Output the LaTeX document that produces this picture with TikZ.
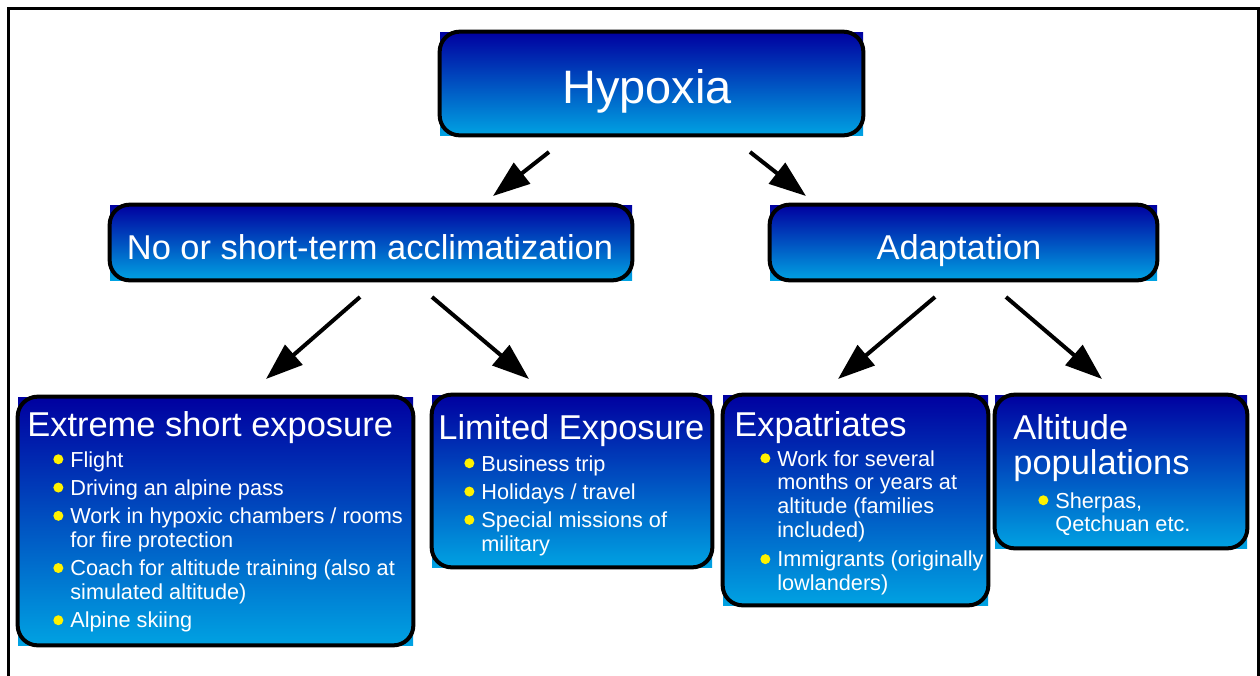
\documentclass[tikz,border=0pt]{standalone}
\usepackage{fontspec}
\setmainfont{Liberation Sans}
\usetikzlibrary{arrows.meta}

\definecolor{navytop}{RGB}{0,0,160}
\definecolor{skybot}{RGB}{0,162,226}

\newcommand{\ydot}{\makebox[0.34cm][l]{\tikz[baseline=0pt]\fill[yellow] (0.1,0.155) circle (0.1);}}

\tikzset{
  box/.style={rectangle,top color=navytop,bottom color=skybot,draw=none,inner sep=0pt},
  rim/.style={draw=black,line width=0.08cm,rounded corners=0.4cm},
  hd/.style={anchor=base,inner sep=0pt,text=white,font=\fontsize{26.7}{32}\selectfont},
  sub/.style={anchor=base,inner sep=0pt,text=white,font=\fontsize{19.6}{23}\selectfont},
  ttl/.style={anchor=base west,inner sep=0pt,text=white,font=\fontsize{19.6}{19.3}\selectfont},
  lst/.style={anchor=base west,inner sep=0pt,text=white,font=\fontsize{12.35}{13.6}\selectfont},
  arr/.style={-{Triangle[length=0.74cm,width=0.52cm]},line width=0.08cm}
}

\begin{document}
\begin{tikzpicture}
        \useasboundingbox (0,0) rectangle (25.2,-13.5);

        % Marco
        \draw[line width=0.06cm] (0.17,-13.8) -- (0.17,-0.17) -- (25.17,-0.17) -- (25.17,-13.8);

        % Cajas
        \node[box,minimum width=8.46cm,minimum height=2.06cm] (hyp) at (13.03,-1.67) {};
        \node[box,minimum width=10.44cm,minimum height=1.5cm] (noacc) at (7.42,-4.85) {};
        \node[box,minimum width=7.74cm,minimum height=1.5cm] (adapt) at (19.27,-4.85) {};
        \node[box,minimum width=7.9cm,minimum height=4.96cm] (ext) at (4.31,-10.42) {};
        \node[box,minimum width=5.6cm,minimum height=3.44cm] (lim) at (11.44,-9.62) {};
        \node[box,minimum width=5.3cm,minimum height=4.2cm] (expat) at (17.11,-10.0) {};
        \node[box,minimum width=5.04cm,minimum height=3.06cm] (alt) at (22.42,-9.43) {};
        \foreach \n in {hyp,noacc,adapt,ext,lim,expat,alt}
          \draw[rim] (\n.north west) rectangle (\n.south east);

        % Textos
        \node[hd] (hyptxt) at (12.94,-2.06) {Hypoxia};
        \node[sub] (noacctxt) at (7.40,-5.18) {No or short-term acclimatization};
        \node[sub] (adapttxt) at (19.18,-5.18) {Adaptation};

        \node[ttl] (extttl) at (0.54,-8.72) {Extreme short exposure};
        \node[lst] (extlst) at (1.06,-9.34) {\begin{tabular}[t]{@{}l@{}l@{}}
          \ydot & Flight\\[2.5pt]
          \ydot & Driving an alpine pass\\[2.5pt]
          \ydot & Work in hypoxic chambers / rooms\\
                & for fire protection\\[2.5pt]
          \ydot & Coach for altitude training (also at\\
                & simulated altitude)\\[2.5pt]
          \ydot & Alpine skiing
        \end{tabular}};

        \node[ttl] (limttl) at (8.76,-8.78) {Limited Exposure};
        \node[lst] (limlst) at (9.28,-9.42) {\begin{tabular}[t]{@{}l@{}l@{}}
          \ydot & Business trip\\[2.5pt]
          \ydot & Holidays / travel\\[2.5pt]
          \ydot & Special missions of\\
                & military
        \end{tabular}};

        \node[ttl] (expatttl) at (14.68,-8.72) {Expatriates};
        \node[lst] (expatlst) at (15.2,-9.32) {\begin{tabular}[t]{@{}l@{}l@{}}
          \ydot & Work for several\\
                & months or years at\\
                & altitude (families\\
                & included)\\[3pt]
          \ydot & Immigrants (originally\\
                & lowlanders)
        \end{tabular}};

        \node[ttl] (altttl) at (20.26,-8.78) {\begin{tabular}[t]{@{}l@{}}Altitude\\ populations\end{tabular}};
        \node[lst] (altlst) at (20.76,-10.16) {\begin{tabular}[t]{@{}l@{}l@{}}
          \ydot & Sherpas,\\
                & Qetchuan etc.
        \end{tabular}};

        % Extremos de las flechas
        \coordinate (h1) at (10.98,-3.04);
        \coordinate (h2) at (15.0,-3.04);
        \coordinate (n1) at (9.86,-3.92);
        \coordinate (n2) at (16.12,-3.92);
        \coordinate (s1) at (7.2,-5.94);
        \coordinate (s2) at (8.64,-5.94);
        \coordinate (s3) at (18.7,-5.94);
        \coordinate (s4) at (20.12,-5.94);
        \coordinate (e1) at (5.32,-7.58);
        \coordinate (e2) at (10.58,-7.58);
        \coordinate (e3) at (16.76,-7.58);
        \coordinate (e4) at (22.04,-7.58);

        % Flechas
        \draw[arr] (h1) -- (n1);
        \draw[arr] (h2) -- (n2);
        \draw[arr] (s1) -- (e1);
        \draw[arr] (s2) -- (e2);
        \draw[arr] (s3) -- (e3);
        \draw[arr] (s4) -- (e4);
\end{tikzpicture}
\end{document}
